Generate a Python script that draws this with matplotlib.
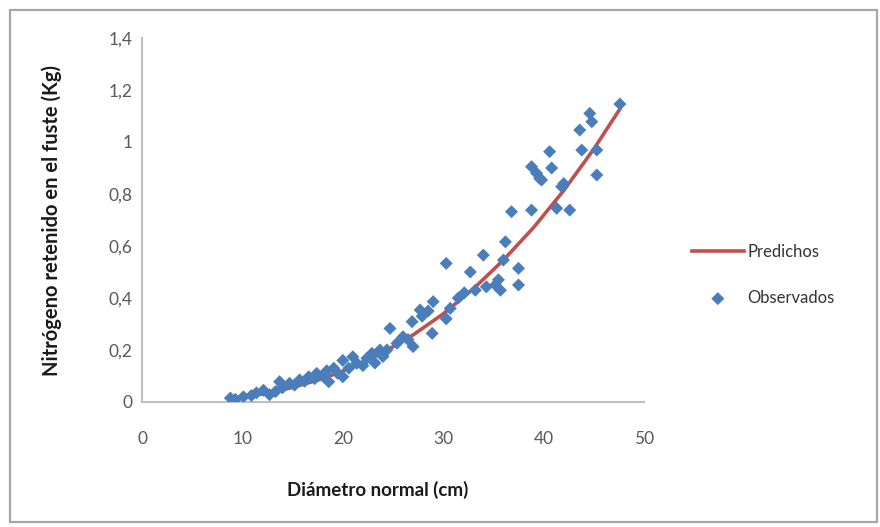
import matplotlib
matplotlib.use("Agg")
import matplotlib.pyplot as plt
from matplotlib.patches import Rectangle
from matplotlib.ticker import FuncFormatter

# Observed data (Diámetro normal cm, Nitrógeno kg)
obs_x = [8.8, 9.3, 10.1, 10.9, 11.4, 12.1, 12.7, 13.3, 13.7, 14.0, 14.7, 15.2, 15.7,
         16.2, 16.6, 17.2, 17.4, 18.0, 18.4, 18.6, 19.1, 19.5, 20.0, 20.0, 20.6, 21.0,
         21.4, 22.0, 22.4, 22.9, 23.2, 23.7, 24.0, 24.4, 24.7, 25.4, 26.0, 26.5, 27.0,
         26.9, 27.7, 27.9, 28.5, 28.9, 29.0, 30.3, 30.3, 30.7, 31.5, 32.1, 32.7, 33.2,
         34.0, 34.3, 35.2, 35.5, 35.7, 36.0, 36.2, 36.8, 37.5, 37.5, 38.8, 38.8, 39.3,
         39.6, 39.8, 40.6, 40.8, 41.3, 41.8, 42.0, 42.6, 43.6, 43.8, 44.6, 44.8, 45.3,
         45.3, 47.6]
obs_y = [0.015, 0.010, 0.020, 0.025, 0.035, 0.045, 0.028, 0.040, 0.078, 0.055, 0.072,
         0.065, 0.085, 0.080, 0.097, 0.090, 0.110, 0.100, 0.120, 0.078, 0.130, 0.110,
         0.160, 0.097, 0.130, 0.174, 0.149, 0.140, 0.168, 0.187, 0.150, 0.200, 0.175,
         0.200, 0.283, 0.226, 0.251, 0.240, 0.213, 0.309, 0.354, 0.330, 0.350, 0.264,
         0.386, 0.320, 0.533, 0.360, 0.400, 0.420, 0.500, 0.430, 0.565, 0.443, 0.450,
         0.470, 0.430, 0.546, 0.616, 0.732, 0.514, 0.450, 0.905, 0.738, 0.880, 0.860,
         0.854, 0.963, 0.900, 0.745, 0.828, 0.840, 0.738, 1.046, 0.969, 1.110, 1.078,
         0.969, 0.873, 1.146]

# Predicted curve
pred_x = [9, 12, 15, 18, 21, 24, 27, 30, 33, 36, 39, 42, 45, 47.6]
pred_y = [0.015, 0.031, 0.056, 0.090, 0.134, 0.190, 0.258, 0.339, 0.435, 0.546,
          0.671, 0.813, 0.973, 1.127]

x_ticks = [0, 10, 20, 30, 40, 50]
y_ticks = [0, 0.2, 0.4, 0.6, 0.8, 1.0, 1.2, 1.4]

plt.rcParams['font.family'] = ['Lato', 'DejaVu Sans']

fig = plt.figure(figsize=(8.8, 5.27), dpi=100)
W, H = 880, 527

# outer chart frame
fig.patches.append(Rectangle((10 / W, 1 - 522 / H), (877 - 10) / W, (522 - 10) / H,
                             transform=fig.transFigure, fill=False,
                             edgecolor='#a6a6a6', linewidth=1.6))

ax = fig.add_axes([142 / W, 1 - 402 / H, (644 - 142) / W, (402 - 38) / H])
ax.set_xlim(0, 50)
ax.set_ylim(0, 1.4)
ax.set_xticks(x_ticks)
ax.set_yticks(y_ticks)

def fmt(v, pos):
    s = ('%.1f' % v).rstrip('0').rstrip('.')
    return s.replace('.', ',')

ax.yaxis.set_major_formatter(FuncFormatter(fmt))
ax.xaxis.set_major_formatter(FuncFormatter(lambda v, p: '%d' % v))

for side in ['top', 'right']:
    ax.spines[side].set_visible(False)
for side in ['left', 'bottom']:
    ax.spines[side].set_color('#bfbfbf')
    ax.spines[side].set_linewidth(1.5)
ax.tick_params(length=0, labelsize=12.5, colors='#595959')
ax.tick_params(axis='x', pad=21)
ax.tick_params(axis='y', pad=7)

line, = ax.plot(pred_x, pred_y, color='#c0504d', linewidth=2.6, label='Predichos',
                zorder=2)
sc = ax.scatter(obs_x, obs_y, marker='D', s=44, color='#4a7ebb', edgecolors='none',
                label='Observados', zorder=3)

fig.text(378 / W, 1 - 490 / H, 'Diámetro normal (cm)', fontsize=13.5,
         fontweight='bold', ha='center', va='center', color='#1a1a1a')
fig.text(52 / W, 1 - 220 / H, 'Nitrógeno retenido en el fuste (Kg)', fontsize=14.5,
         fontweight='bold', ha='center', va='center', rotation=90, color='#1a1a1a')

leg = fig.legend(handles=[line, sc], labels=['Predichos', 'Observados'],
                 loc='center left', bbox_to_anchor=(692 / W, 1 - 275 / H),
                 frameon=False, fontsize=12, handlelength=3.1, handletextpad=0.2,
                 labelspacing=1.8, borderaxespad=0, borderpad=0, scatterpoints=1)
for t in leg.get_texts():
    t.set_color('#333333')

fig.savefig('out.png', dpi=100)
